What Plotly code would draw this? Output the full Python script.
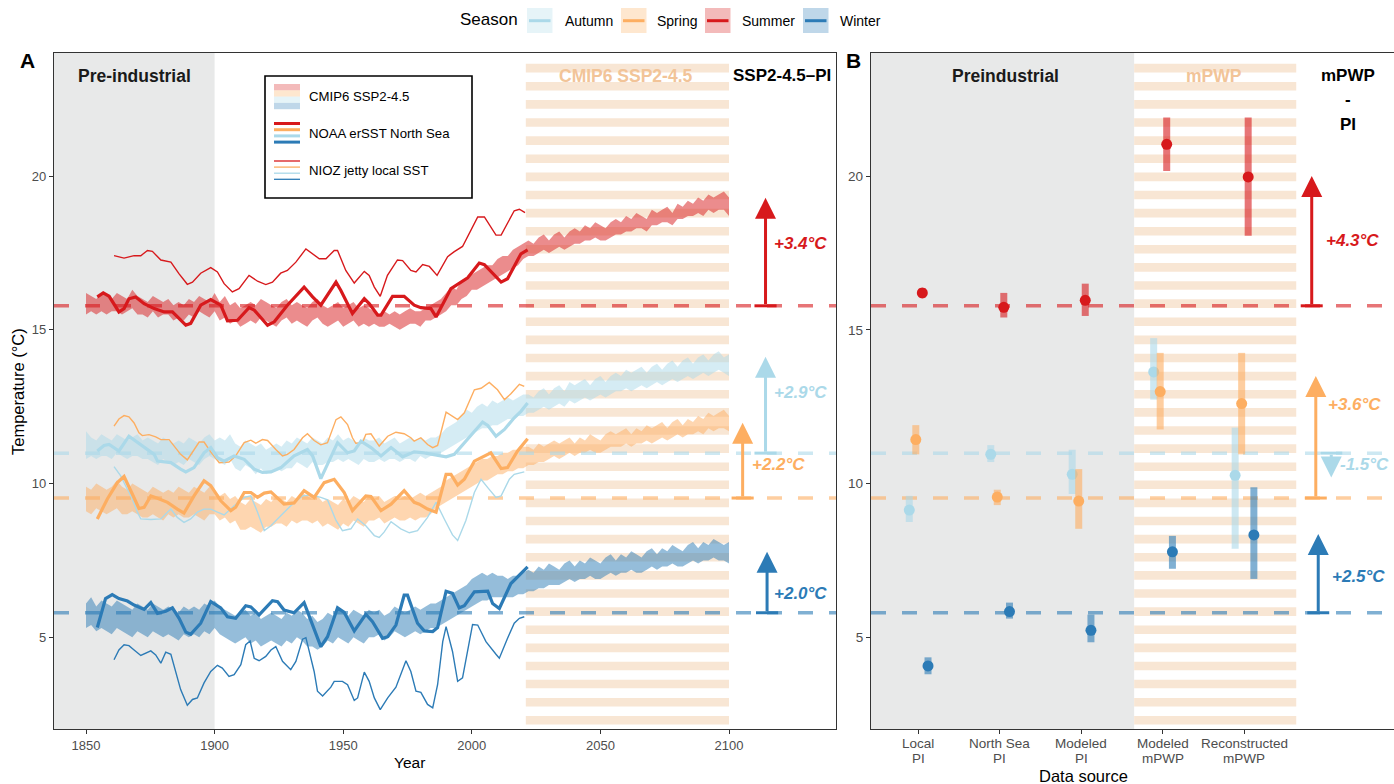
import plotly.graph_objects as go

W, H = 1394, 784
FONT = "Liberation Sans, Arial, Helvetica, sans-serif"

SEASONS = ["Autumn", "Spring", "Summer", "Winter"]
COLORS = {"Autumn": "#ABD9E9", "Spring": "#FDAE61", "Summer": "#D7191C", "Winter": "#2C7BB6"}

# ---------------- data: panel A ----------------
# pre-industrial reference levels (dashed lines)
pi_level = {"Summer": 15.78, "Autumn": 10.99, "Spring": 9.53, "Winter": 5.80}

# CMIP6 SSP2-4.5 ensemble ribbons, every 2 years 1850-2100
ribbon_years = list(range(1850, 2101, 2))
summer_hi = [16.2,16.1,16.0,16.2,16.1,16.0,16.2,16.1,16.0,16.3,16.1,16.0,15.9,16.1,16.0,15.9,16.0,15.8,15.9,15.8,16.0,15.9,16.1,16.0,15.9,16.2,
             15.9,16.1,15.8,15.9,15.7,15.8,15.9,15.8,16.0,15.9,15.8,15.7,15.9,16.0,15.8,15.9,15.8,15.7,15.9,16.0,15.8,15.7,15.8,15.9,15.7,15.8,15.9,15.7,15.8,15.7,
             15.6,15.5,15.6,15.5,15.6,15.5,15.6,15.7,15.6,15.6,15.7,15.8,
             15.9,16.0,16.2,16.4,16.3,16.6,16.7,16.8,16.9,17.0,17.1,17.1,17.3,17.4,17.4,17.6,17.7,17.8,
             17.9,17.8,18.0,18.1,17.9,18.1,18.2,18.0,18.2,18.3,18.2,18.4,18.3,18.5,18.4,18.3,18.5,18.6,18.5,18.7,
             18.6,18.8,18.7,18.6,18.9,18.8,18.9,19.0,18.8,19.1,19.0,19.2,19.1,19.3,19.2,19.4,19.3,19.4,19.5,19.3]
summer_lo = [15.5,15.6,15.5,15.6,15.5,15.6,15.6,15.5,15.6,15.7,15.5,15.5,15.4,15.6,15.4,15.5,15.5,15.3,15.4,15.3,15.5,15.4,15.6,15.5,15.4,15.6,
             15.3,15.4,15.2,15.3,15.1,15.2,15.3,15.2,15.4,15.3,15.2,15.1,15.3,15.4,15.2,15.3,15.2,15.1,15.3,15.4,15.2,15.1,15.2,15.3,15.1,15.2,15.3,15.1,15.2,15.1,
             15.2,15.1,15.1,15.2,15.1,15.0,15.1,15.2,15.2,15.1,15.3,15.3,
             15.4,15.5,15.6,15.8,15.8,16.0,16.1,16.3,16.3,16.4,16.5,16.6,16.7,16.8,16.9,17.0,17.1,17.3,
             17.4,17.4,17.5,17.6,17.5,17.6,17.7,17.6,17.7,17.8,17.8,17.9,17.9,18.0,17.9,17.9,18.0,18.1,18.1,18.2,
             18.2,18.3,18.3,18.2,18.4,18.4,18.5,18.5,18.4,18.6,18.6,18.7,18.7,18.8,18.7,18.9,18.8,18.9,18.9,18.7]
autumn_hi = [11.7,11.5,11.4,11.6,11.5,11.4,11.6,11.5,11.4,11.5,11.6,11.4,11.5,11.4,11.3,11.5,11.4,11.3,11.4,11.3,11.5,11.4,11.3,11.5,11.6,11.4,
             11.5,11.4,11.6,11.3,11.2,11.4,11.3,11.2,11.3,11.1,11.2,11.3,11.2,11.4,11.3,11.5,11.4,11.3,11.5,11.4,11.3,11.5,11.4,11.6,11.4,11.5,11.4,11.3,11.5,11.4,
             11.4,11.5,11.3,11.4,11.5,11.3,11.4,11.5,11.4,11.5,11.4,11.5,
             11.5,11.6,11.8,11.9,12.0,12.2,12.4,12.3,12.5,12.6,12.5,12.7,12.6,12.7,12.8,12.7,12.8,12.9,
             12.9,12.8,13.0,13.1,12.9,13.1,13.2,13.0,13.3,13.2,13.3,13.4,13.2,13.4,13.5,13.3,13.5,13.6,13.5,13.7,
             13.6,13.7,13.8,13.6,13.8,13.9,13.7,13.9,14.0,13.8,14.0,14.1,13.9,14.1,14.2,14.0,14.2,14.3,14.1,14.2]
autumn_lo = [10.8,10.9,10.8,10.9,10.9,10.8,11.0,10.9,10.8,10.9,10.9,10.8,10.8,10.7,10.6,10.8,10.7,10.6,10.7,10.6,10.8,10.7,10.6,10.8,10.9,10.8,
             10.7,10.6,10.8,10.5,10.4,10.6,10.5,10.3,10.5,10.3,10.4,10.5,10.4,10.5,10.5,10.7,10.6,10.5,10.7,10.6,10.6,10.7,10.7,10.8,10.7,10.8,10.7,10.6,10.8,10.7,
             10.7,10.8,10.7,10.8,10.8,10.7,10.8,10.8,10.7,10.9,10.8,10.9,
             10.9,11.0,11.1,11.2,11.3,11.4,11.5,11.6,11.7,11.8,11.8,11.9,11.9,12.0,12.1,12.1,12.2,12.2,
             12.3,12.3,12.4,12.5,12.4,12.5,12.6,12.5,12.7,12.6,12.7,12.8,12.7,12.8,12.9,12.8,12.9,13.0,13.0,13.1,
             13.0,13.1,13.2,13.1,13.2,13.3,13.2,13.3,13.4,13.3,13.4,13.5,13.4,13.5,13.6,13.5,13.6,13.7,13.6,13.5]
spring_hi = [9.9,9.8,10.0,9.9,9.8,9.9,10.1,9.9,9.8,10.0,9.9,9.8,9.7,9.9,9.8,9.7,9.8,9.7,9.9,9.8,9.7,9.9,9.8,9.7,9.9,9.8,
             9.6,9.7,9.5,9.6,9.4,9.3,9.5,9.4,9.3,9.5,9.4,9.6,9.5,9.4,9.6,9.5,9.7,9.6,9.5,9.6,9.4,9.5,9.4,9.3,9.5,9.4,9.6,9.5,9.4,9.6,
             9.5,9.6,9.4,9.5,9.6,9.5,9.6,9.5,9.6,9.7,9.6,9.7,
             9.8,9.9,10.1,10.2,10.3,10.4,10.5,10.6,10.7,10.8,10.8,10.9,10.9,11.0,11.0,11.1,11.1,11.2,
             11.2,11.1,11.3,11.2,11.3,11.4,11.3,11.4,11.5,11.3,11.5,11.4,11.6,11.5,11.4,11.6,11.7,11.6,11.7,11.8,
             11.6,11.8,11.7,11.9,11.8,11.9,12.0,11.8,12.0,12.1,11.9,12.1,12.0,12.2,12.1,12.3,12.2,12.3,12.4,12.2]
spring_lo = [9.1,9.0,9.2,9.1,9.0,9.1,9.2,9.0,9.0,9.1,9.0,8.9,8.9,9.0,8.9,8.8,9.0,8.9,9.0,8.9,8.9,9.0,8.9,8.8,9.0,9.0,
             8.8,8.9,8.7,8.8,8.5,8.5,8.6,8.5,8.4,8.6,8.6,8.7,8.7,8.6,8.8,8.7,8.8,8.8,8.7,8.8,8.6,8.7,8.6,8.5,8.7,8.6,8.8,8.7,8.6,8.8,
             8.8,8.9,8.7,8.8,8.9,8.8,8.8,8.9,8.8,8.9,8.9,9.0,
             9.2,9.3,9.4,9.5,9.6,9.7,9.8,9.9,10.0,10.1,10.1,10.2,10.3,10.3,10.4,10.4,10.5,10.5,
             10.6,10.6,10.7,10.7,10.8,10.9,10.8,10.9,11.0,10.9,11.0,11.0,11.1,11.0,11.0,11.1,11.2,11.2,11.2,11.3,
             11.2,11.3,11.3,11.4,11.3,11.4,11.5,11.4,11.5,11.6,11.5,11.6,11.6,11.7,11.6,11.8,11.7,11.8,11.8,11.7]
winter_hi = [6.1,6.3,6.0,6.2,6.1,6.0,6.2,6.1,6.0,5.9,6.1,6.0,5.9,6.1,6.0,5.9,6.0,5.9,5.8,6.0,5.9,6.0,5.9,6.1,6.0,6.2,
             6.0,5.9,5.8,5.7,5.8,5.9,5.7,5.8,5.6,5.7,5.8,5.7,5.6,5.8,5.7,5.9,5.8,5.6,5.7,5.5,5.6,5.8,5.7,5.9,5.8,5.7,5.9,5.8,5.7,5.9,
             5.8,5.9,5.7,5.8,6.0,5.9,5.8,5.9,6.0,5.9,6.0,6.1,
             6.1,6.2,6.3,6.4,6.5,6.6,6.7,6.9,7.0,7.1,7.0,7.1,7.0,7.0,6.9,7.0,7.0,7.1,
             7.2,7.1,7.3,7.2,7.4,7.3,7.2,7.4,7.5,7.3,7.5,7.4,7.6,7.5,7.4,7.6,7.7,7.5,7.7,7.6,
             7.8,7.7,7.6,7.8,7.9,7.7,7.9,7.8,8.0,7.9,7.8,8.0,8.1,7.9,8.1,8.0,8.2,8.1,8.0,8.1]
winter_lo = [5.3,5.4,5.2,5.3,5.2,5.1,5.3,5.2,5.1,5.0,5.2,5.1,5.0,5.2,5.1,5.0,5.1,5.0,4.9,5.1,5.0,5.1,5.0,5.2,5.1,5.3,
             5.1,5.0,4.9,4.8,4.9,5.0,4.8,4.9,4.7,4.8,4.9,4.8,4.7,4.9,4.8,5.0,4.9,4.7,4.7,4.6,4.7,4.9,4.8,5.0,4.9,4.8,5.0,4.9,4.8,5.0,
             5.0,5.1,4.9,5.0,5.2,5.1,5.0,5.1,5.2,5.1,5.2,5.3,
             5.3,5.4,5.5,5.6,5.7,5.8,5.9,6.0,6.1,6.2,6.2,6.3,6.3,6.3,6.3,6.3,6.4,6.4,
             6.5,6.5,6.6,6.6,6.7,6.7,6.7,6.8,6.9,6.8,6.9,6.9,7.0,6.9,6.9,7.0,7.1,7.0,7.1,7.1,
             7.2,7.1,7.1,7.2,7.3,7.2,7.3,7.3,7.4,7.3,7.3,7.4,7.5,7.4,7.5,7.5,7.6,7.5,7.5,7.4]
ribbon_hi = {"Summer": summer_hi, "Autumn": autumn_hi, "Spring": spring_hi, "Winter": winter_hi}
ribbon_lo = {"Summer": summer_lo, "Autumn": autumn_lo, "Spring": spring_lo, "Winter": winter_lo}

# NOAA ERSST North Sea (smoothed)
noaa_summer_year = [1854.4,1856.7,1859.0,1862.8,1864.8,1866.7,1869.3,1872.6,1876.5,1880.4,1883.6,1886.2,1888.8,1890.7,1894.6,1898.5,
                    1902.4,1905.0,1908.9,1913.4,1915.4,1920.6,1923.2,1928.3,1934.8,1938.1,1941.3,1947.2,1949.1,1953.6,1958.2,1960.1,
                    1963.4,1964.7,1969.2,1973.7,1977.6,1980.2,1984.1,1986.1,1991.9,1998.4,2002.9,2004.9,2011.4,2013.9,2019.1,2021.7]
noaa_summer_temp = [16.07,16.20,16.09,15.58,15.69,16.01,16.07,15.85,15.69,15.58,15.58,15.37,15.15,15.21,15.80,15.98,
                    15.80,15.29,15.31,15.72,15.64,15.15,15.26,15.80,16.39,16.07,15.80,16.55,16.28,15.53,16.01,15.85,
                    15.48,15.48,16.09,16.09,15.80,15.72,15.69,15.42,16.34,16.69,17.17,17.12,16.55,16.66,17.47,17.60]
noaa_autumn_year = [1854.4,1857.0,1859.0,1862.8,1866.7,1871.3,1876.5,1877.8,1883.0,1886.8,1888.8,1892.0,1895.9,1898.5,1901.1,
                    1903.7,1907.6,1911.5,1915.4,1918.6,1921.9,1925.8,1930.9,1936.1,1938.1,1941.3,1945.2,1947.8,1951.7,1954.3,
                    1956.9,1960.8,1964.7,1968.6,1973.1,1977.6,1981.5,1985.4,1990.0,1993.2,1997.1,2001.0,2004.2,2006.2,2009.4,
                    2012.7,2016.5,2019.1,2021.7]
noaa_autumn_temp = [11.06,11.24,11.27,11.06,11.54,11.27,10.95,10.73,10.68,10.47,10.38,10.52,11.00,11.17,10.84,
                    10.73,10.90,10.79,10.47,10.36,10.38,10.52,10.90,11.11,10.90,10.16,10.90,11.33,11.00,11.06,
                    11.38,11.17,10.90,11.17,10.87,11.03,11.00,10.95,10.87,10.95,11.33,11.70,12.00,11.89,11.54,
                    11.76,12.14,12.35,12.62]
noaa_spring_year = [1854.4,1858.3,1862.2,1864.8,1868.0,1870.6,1872.6,1875.2,1877.8,1881.7,1885.5,1888.1,1892.0,1895.9,1898.5,
                    1902.4,1906.3,1908.2,1911.5,1914.1,1916.7,1919.3,1921.9,1927.0,1930.9,1934.8,1938.7,1942.6,1946.5,1950.4,
                    1953.6,1958.8,1960.8,1964.7,1968.6,1973.7,1977.6,1979.6,1982.8,1986.1,1990.0,1991.9,1994.5,1997.1,2001.0,
                    2004.9,2007.4,2011.4,2013.9,2017.8,2021.7]
noaa_spring_temp = [8.85,9.50,10.03,10.23,9.66,9.19,9.23,9.60,9.52,9.39,9.17,9.04,9.60,10.09,9.93,
                    9.44,9.12,9.23,9.71,9.71,9.55,9.69,9.73,9.33,9.37,9.77,9.55,10.03,10.14,9.71,
                    9.12,9.60,9.58,9.12,9.33,9.77,9.39,9.33,9.17,9.07,10.30,10.30,9.95,10.14,10.73,
                    10.90,11.00,10.49,10.52,11.06,11.46]
noaa_winter_year = [1854.4,1857.6,1860.2,1862.8,1866.1,1868.7,1872.6,1875.2,1877.8,1881.0,1883.6,1886.2,1888.8,1890.7,1894.6,
                    1898.5,1902.4,1905.0,1908.2,1912.1,1914.1,1917.3,1922.5,1924.5,1927.0,1930.9,1934.8,1938.1,1941.3,1943.9,
                    1947.8,1950.4,1954.3,1958.8,1961.4,1965.3,1967.3,1970.5,1973.7,1975.0,1978.9,1981.5,1984.8,1986.7,1990.0,
                    1992.5,1995.1,1997.1,2001.0,2006.2,2008.1,2010.7,2015.2,2021.7]
noaa_winter_temp = [5.32,6.26,6.39,6.26,6.18,6.05,5.91,6.13,5.78,5.85,5.96,5.62,5.17,5.10,5.46,
                    6.16,5.96,5.67,5.62,6.03,5.99,5.73,6.19,6.16,5.89,5.80,6.13,5.40,4.70,5.02,
                    5.96,5.81,5.21,5.75,5.51,4.97,5.02,5.40,6.37,6.37,5.46,5.21,5.19,5.32,6.50,
                    6.43,5.96,6.03,6.48,6.50,6.10,5.94,6.75,7.29]

# NIOZ jetty local SST
nioz_summer_year = [1860.9,1864.8,1868.7,1871.3,1873.9,1875.8,1879.1,1883.0,1886.2,1889.4,1891.4,1894.6,1898.5,1901.1,1903.7,
                    1906.9,1909.5,1913.4,1916.7,1919.9,1922.5,1925.7,1928.3,1931.6,1935.5,1937.4,1940.7,1943.3,1946.5,1947.8,
                    1951.0,1954.3,1958.2,1960.1,1962.1,1964.4,1967.2,1971.1,1973.1,1976.3,1978.3,1980.9,1983.5,1986.5,1990.6,
                    1993.2,1996.4,2002.3,2004.9,2009.4,2011.4,2016.5,2018.5,2020.7]
nioz_summer_temp = [17.41,17.33,17.41,17.41,17.58,17.55,17.27,17.20,16.82,16.48,16.55,16.84,17.02,16.88,16.50,
                    16.23,16.34,16.77,16.58,16.47,16.55,16.84,16.93,17.20,17.63,17.52,17.31,17.31,17.58,17.58,
                    16.93,16.52,16.90,16.77,16.39,16.09,16.77,17.27,17.25,16.93,16.88,17.12,17.06,16.77,17.38,
                    17.54,17.71,18.67,18.67,18.08,18.08,18.87,18.92,18.81]
nioz_autumn_year = [1860.9,1863.5,1865.4,1868.0,1870.0,1871.3,1875.2,1879.1,1881.0,1883.0,1885.5,1888.1,1890.7,1893.3,1895.9,
                    1898.5,1901.1,1903.7,1907.6,1911.5,1914.1,1916.7,1919.3,1921.9,1925.8,1929.6,1934.2,1937.4,1941.3,1943.9,
                    1947.2,1949.7,1953.0,1955.6,1958.8,1962.1,1964.0,1965.9,1968.6,1972.4,1975.7,1978.9,1982.8,1986.1,1989.3,
                    1992.5,1994.5,1997.7,2001.0,2003.6,2006.2,2009.4,2011.4,2014.6,2016.5,2020.4]
nioz_autumn_temp = [10.55,10.25,9.93,9.50,9.07,8.85,8.83,8.85,9.01,9.17,8.90,8.74,8.85,9.07,9.17,
                    9.17,9.07,8.98,9.28,9.55,9.60,9.07,8.47,8.63,8.96,9.28,9.60,9.63,9.55,9.47,
                    8.80,8.47,8.53,8.85,8.63,8.31,8.25,8.42,8.76,8.53,8.40,8.47,8.90,9.39,8.85,
                    8.33,8.15,8.80,9.71,10.14,9.87,9.55,9.60,10.14,10.30,10.38]
nioz_spring_year = [1860.9,1862.8,1864.8,1866.7,1868.7,1870.6,1871.9,1874.5,1877.1,1879.1,1882.3,1884.2,1886.8,1889.4,1892.0,
                    1894.0,1895.9,1898.5,1901.8,1905.6,1908.2,1911.5,1914.1,1916.0,1918.6,1920.6,1923.8,1926.4,1928.3,1930.9,
                    1934.2,1936.1,1938.7,1941.3,1943.9,1947.2,1949.1,1951.7,1953.6,1954.9,1957.5,1958.8,1960.8,1964.0,1967.3,
                    1970.5,1973.7,1976.3,1977.6,1980.2,1982.8,1984.8,1986.7,1990.0,1994.5,1997.1,2001.0,2003.6,2006.8,2010.0,
                    2012.7,2015.2,2018.5,2020.4]
nioz_spring_temp = [11.87,12.10,12.21,12.17,11.97,11.65,11.56,11.59,11.52,11.43,11.43,11.24,10.95,10.77,11.11,
                    11.35,11.35,11.03,10.68,10.70,10.90,11.33,11.41,11.31,11.43,11.40,11.11,10.90,10.95,11.11,
                    11.49,11.62,11.40,11.26,11.33,12.08,12.17,11.92,11.49,11.31,11.33,11.60,11.62,11.22,11.54,
                    11.67,11.62,11.49,11.38,11.49,11.27,11.17,11.24,12.32,12.08,12.30,13.05,13.10,13.29,13.05,
                    12.73,12.92,13.23,13.16]
nioz_winter_year = [1860.9,1862.8,1864.8,1866.7,1868.7,1871.3,1875.2,1877.1,1879.1,1881.0,1883.0,1884.9,1886.8,1889.4,1891.4,
                    1893.3,1895.9,1898.5,1901.1,1903.0,1905.6,1907.6,1910.2,1912.1,1913.8,1915.4,1917.3,1919.9,1921.9,1923.8,
                    1926.4,1929.6,1931.6,1934.2,1935.5,1938.7,1940.0,1942.0,1945.2,1946.5,1949.7,1951.7,1954.3,1955.6,1958.2,
                    1960.1,1962.1,1964.4,1967.3,1970.5,1974.4,1976.3,1978.3,1980.2,1982.8,1984.8,1986.7,1988.7,1990.0,1992.5,
                    1994.5,1996.4,2000.3,2002.3,2005.5,2009.4,2010.7,2013.9,2016.5,2018.5,2020.4]
nioz_winter_temp = [4.27,4.59,4.76,4.73,4.59,4.41,4.56,4.43,4.16,4.52,4.45,3.89,3.30,2.79,2.98,
                    3.03,3.52,3.89,4.09,4.00,3.73,3.79,4.11,4.76,4.88,4.32,4.24,4.38,4.59,4.70,
                    4.22,3.95,4.22,4.94,4.99,3.89,3.25,3.09,3.38,3.57,3.57,3.46,2.95,3.03,3.87,
                    3.57,3.03,2.65,3.03,3.38,4.24,3.89,3.25,3.21,2.82,2.71,3.46,4.86,5.35,4.54,
                    3.57,3.68,5.42,5.40,4.86,4.45,4.32,4.97,5.46,5.62,5.67]

noaa = {"Summer": (noaa_summer_year, noaa_summer_temp), "Autumn": (noaa_autumn_year, noaa_autumn_temp),
        "Spring": (noaa_spring_year, noaa_spring_temp), "Winter": (noaa_winter_year, noaa_winter_temp)}
nioz = {"Summer": (nioz_summer_year, nioz_summer_temp), "Autumn": (nioz_autumn_year, nioz_autumn_temp),
        "Spring": (nioz_spring_year, nioz_spring_temp), "Winter": (nioz_winter_year, nioz_winter_temp)}

# SSP2-4.5 minus PI arrows (panel A)
arrowA_year = {"Summer": 2114.2, "Autumn": 2114.2, "Spring": 2105.3, "Winter": 2114.8}
arrowA_end = {"Summer": 19.29, "Autumn": 14.12, "Spring": 11.98, "Winter": 7.78}
arrowA_label = {"Summer": "+3.4°C", "Autumn": "+2.9°C", "Spring": "+2.2°C", "Winter": "+2.0°C"}
labelA_pos = {"Summer": (2127.8, 17.8), "Autumn": (2127.8, 12.95), "Spring": (2119.3, 10.63), "Winter": (2127.8, 6.43)}

# ---------------- data: panel B ----------------
pb_categories = [("Local", "PI"), ("North Sea", "PI"), ("Modeled", "PI"), ("Modeled", "mPWP"), ("Reconstructed", "mPWP")]
pb_autumn_mean = [9.14, 10.95, 10.30, 13.63, 10.27]
pb_autumn_lo = [8.75, 10.70, 9.66, 12.73, 7.88]
pb_autumn_hi = [9.60, 11.25, 11.10, 14.73, 11.82]
pb_spring_mean = [11.43, 9.56, 9.43, 12.99, 12.60]
pb_spring_lo = [10.95, 9.30, 8.53, 11.76, 10.95]
pb_spring_hi = [11.90, 9.80, 10.47, 14.25, 14.25]
pb_summer_mean = [16.20, 15.73, 15.96, 21.03, 19.97]
pb_summer_lo = [16.05, 15.40, 15.45, 20.16, 18.06]
pb_summer_hi = [16.35, 16.20, 16.50, 21.90, 21.90]
pb_winter_mean = [4.07, 5.84, 5.23, 7.78, 8.33]
pb_winter_lo = [3.80, 5.61, 4.84, 7.23, 6.90]
pb_winter_hi = [4.35, 6.13, 5.74, 8.30, 9.88]
pb = {"Autumn": (pb_autumn_mean, pb_autumn_lo, pb_autumn_hi), "Spring": (pb_spring_mean, pb_spring_lo, pb_spring_hi),
      "Summer": (pb_summer_mean, pb_summer_lo, pb_summer_hi), "Winter": (pb_winter_mean, pb_winter_lo, pb_winter_hi)}
dodge = {"Autumn": -0.11, "Spring": -0.03, "Summer": 0.05, "Winter": 0.12}

arrowB_x = {"Summer": 5.83, "Spring": 5.88, "Autumn": 6.07, "Winter": 5.91}
arrowB_end = {"Summer": 20.0, "Spring": 13.5, "Autumn": 10.2, "Winter": 8.36}
arrowB_label = {"Summer": "+4.3°C", "Spring": "+3.6°C", "Autumn": "-1.5°C", "Winter": "+2.5°C"}
labelB_pos = {"Summer": (6.33, 17.9), "Spring": (6.36, 12.57), "Autumn": (6.48, 10.63), "Winter": (6.40, 6.97)}

# ---------------- geometry ----------------
XA_DOM = [54 / W, 836 / W]
XB_DOM = [871 / W, 1.0]
Y_DOM = [1 - 729 / H, 1 - 52.7 / H]
XA_RANGE = [1837.56, 2141.6]
XB_RANGE = [0.42, 6.84]
Y_RANGE = [2.02, 24.01]


def rgba(hexc, a):
    h = hexc.lstrip('#')
    return "rgba(%d,%d,%d,%s)" % (int(h[0:2], 16), int(h[2:4], 16), int(h[4:6], 16), a)


def px(xp, yp):
    return xp / W, 1 - yp / H


fig = go.Figure()
shapes = []
ann = []

GRAY = "#E8E9E9"
STRIPE = "#F8E6D4"

# background regions panel A
shapes.append(dict(type="rect", xref="x", yref="y", x0=XA_RANGE[0], x1=1900, y0=Y_RANGE[0], y1=Y_RANGE[1],
                   fillcolor=GRAY, line_width=0, layer="below"))
# background regions panel B
shapes.append(dict(type="rect", xref="x2", yref="y2", x0=XB_RANGE[0], x1=3.65, y0=Y_RANGE[0], y1=Y_RANGE[1],
                   fillcolor=GRAY, line_width=0, layer="below"))
for k in range(37):
    c = 23.507 - 0.589 * k
    shapes.append(dict(type="rect", xref="x", yref="y", x0=2021, x1=2100, y0=c - 0.14, y1=c + 0.14,
                       fillcolor=STRIPE, line_width=0, layer="below"))
    shapes.append(dict(type="rect", xref="x2", yref="y2", x0=3.65, x1=5.64, y0=c - 0.14, y1=c + 0.14,
                       fillcolor=STRIPE, line_width=0, layer="below"))

# ribbons
for s in ["Autumn", "Spring", "Summer", "Winter"]:
    n = min(len(ribbon_years), len(ribbon_hi[s]), len(ribbon_lo[s]))
    xs = ribbon_years[:n] + ribbon_years[:n][::-1]
    ys = ribbon_hi[s][:n] + ribbon_lo[s][:n][::-1]
    fig.add_trace(go.Scatter(x=xs, y=ys, fill="toself", fillcolor=rgba(COLORS[s], 0.5), mode="lines",
                             line=dict(width=0), hoverinfo="skip", showlegend=False, xaxis="x", yaxis="y"))

# dashed PI levels
for s in SEASONS:
    fig.add_trace(go.Scatter(x=XA_RANGE, y=[pi_level[s]] * 2, mode="lines",
                             line=dict(color=rgba(COLORS[s], 0.6), width=3.5, dash="15px,16px"),
                             hoverinfo="skip", showlegend=False, xaxis="x", yaxis="y"))
    fig.add_trace(go.Scatter(x=XB_RANGE, y=[pi_level[s]] * 2, mode="lines",
                             line=dict(color=rgba(COLORS[s], 0.6), width=3.5, dash="15px,16px"),
                             hoverinfo="skip", showlegend=False, xaxis="x2", yaxis="y2"))

# NIOZ thin and NOAA thick lines
for s in SEASONS:
    x, y = nioz[s]
    fig.add_trace(go.Scatter(x=x, y=y, mode="lines", line=dict(color=COLORS[s], width=1.4),
                             hoverinfo="skip", showlegend=False, xaxis="x", yaxis="y"))
for s in SEASONS:
    x, y = noaa[s]
    fig.add_trace(go.Scatter(x=x, y=y, mode="lines", line=dict(color=COLORS[s], width=3.2),
                             hoverinfo="skip", showlegend=False, xaxis="x", yaxis="y"))

# panel A arrows
for s in SEASONS:
    xa = arrowA_year[s]
    fig.add_trace(go.Scatter(x=[xa - 4.3, xa + 4.3], y=[pi_level[s]] * 2, mode="lines",
                             line=dict(color=COLORS[s], width=3), hoverinfo="skip", showlegend=False,
                             xaxis="x", yaxis="y"))
    ann.append(dict(x=xa, y=arrowA_end[s], ax=xa, ay=pi_level[s], xref="x", yref="y", axref="x", ayref="y",
                    text="", showarrow=True, arrowhead=2, arrowsize=1.4, arrowwidth=3, arrowcolor=COLORS[s],
                    standoff=0, startstandoff=0))
    lx, ly = labelA_pos[s]
    ann.append(dict(x=lx, y=ly, xref="x", yref="y", text="<b><i>%s</i></b>" % arrowA_label[s], showarrow=False,
                    font=dict(family=FONT, size=17, color=COLORS[s]), xanchor="center", yanchor="middle"))

# panel B error bars & points
for s in SEASONS:
    mean, lo, hi = pb[s]
    bx, by = [], []
    for i in range(len(mean)):
        xc = i + 1 + dodge[s]
        bx += [xc, xc, None]
        by += [lo[i], hi[i], None]
    fig.add_trace(go.Scatter(x=bx, y=by, mode="lines", line=dict(color=rgba(COLORS[s], 0.6), width=7),
                             hoverinfo="skip", showlegend=False, xaxis="x2", yaxis="y2"))
    fig.add_trace(go.Scatter(x=[i + 1 + dodge[s] for i in range(len(mean))], y=mean, mode="markers",
                             marker=dict(color=COLORS[s], size=11, line=dict(width=0)),
                             hoverinfo="skip", showlegend=False, xaxis="x2", yaxis="y2"))

# panel B arrows
for s in SEASONS:
    xa = arrowB_x[s]
    fig.add_trace(go.Scatter(x=[xa - 0.135, xa + 0.135], y=[pi_level[s]] * 2, mode="lines",
                             line=dict(color=COLORS[s], width=3), hoverinfo="skip", showlegend=False,
                             xaxis="x2", yaxis="y2"))
    ann.append(dict(x=xa, y=arrowB_end[s], ax=xa, ay=pi_level[s], xref="x2", yref="y2", axref="x2", ayref="y2",
                    text="", showarrow=True, arrowhead=2, arrowsize=1.4, arrowwidth=3, arrowcolor=COLORS[s],
                    standoff=0, startstandoff=0))
    lx, ly = labelB_pos[s]
    ann.append(dict(x=lx, y=ly, xref="x2", yref="y2", text="<b><i>%s</i></b>" % arrowB_label[s], showarrow=False,
                    font=dict(family=FONT, size=17, color=COLORS[s]), xanchor="center", yanchor="middle"))

# panel B category tick labels (two lines each)
for i, (l1, l2) in enumerate(pb_categories):
    yy1 = 1 - 743 / H
    yy2 = 1 - 758 / H
    ann.append(dict(x=i + 1, y=yy1, xref="x2", yref="paper", text=l1, showarrow=False,
                    font=dict(family=FONT, size=13.5, color="#4D4D4D"), xanchor="center", yanchor="middle"))
    ann.append(dict(x=i + 1, y=yy2, xref="x2", yref="paper", text=l2, showarrow=False,
                    font=dict(family=FONT, size=13.5, color="#4D4D4D"), xanchor="center", yanchor="middle"))


def text_px(x, y, t, size, color="#1A1A1A", bold=False, angle=0, xanchor="center"):
    xx, yy = px(x, y)
    ann.append(dict(x=xx, y=yy, xref="paper", yref="paper", text=("<b>%s</b>" % t) if bold else t,
                    showarrow=False, font=dict(family=FONT, size=size, color=color), textangle=angle,
                    xanchor=xanchor, yanchor="middle"))


PEACH = "#F2C498"
# region labels
text_px(134, 76, "Pre-industrial", 17.5, bold=True)
text_px(626, 76, "CMIP6 SSP2-4.5", 17.5, color=PEACH, bold=True)
text_px(782, 76, "SSP2-4.5–PI", 17, color="#000000", bold=True)
text_px(1005, 76, "Preindustrial", 17.5, bold=True)
text_px(1214, 76, "mPWP", 17.5, color=PEACH, bold=True)
text_px(1348, 76, "mPWP", 17, color="#000000", bold=True)
text_px(1348, 100, "-", 17, color="#000000", bold=True)
text_px(1348, 124, "PI", 17, color="#000000", bold=True)
# panel tags
text_px(28, 60, "A", 21, color="#000000", bold=True)
text_px(853, 60, "B", 21, color="#000000", bold=True)
# axis titles
text_px(409, 762, "Year", 15.5, color="#000000")
text_px(1083, 776, "Data source", 16.5, color="#000000")
text_px(18, 392, "Temperature (°C)", 16.5, color="#000000", angle=-90)

# top legend (manual)
text_px(489, 20, "Season", 17, color="#000000")
leg_items = [("Autumn", 527, 563), ("Spring", 621, 655), ("Summer", 705, 740), ("Winter", 803, 838)]
for s, bx0, tx in leg_items:
    x0, y0 = px(bx0, 33)
    x1, y1 = px(bx0 + 25.5, 8)
    shapes.append(dict(type="rect", xref="paper", yref="paper", x0=x0, x1=x1, y0=y0, y1=y1,
                       fillcolor=rgba(COLORS[s], 0.3), line_width=0))
    lx0, ly = px(bx0 + 2, 20.7)
    lx1, _ = px(bx0 + 23.5, 20.7)
    shapes.append(dict(type="line", xref="paper", yref="paper", x0=lx0, x1=lx1, y0=ly, y1=ly,
                       line=dict(color=COLORS[s], width=3)))
    text_px(tx, 21, s, 14, color="#000000", xanchor="left")

# inner legend box (panel A)
bx0, by0 = px(265, 198)
bx1, by1 = px(472, 76)
shapes.append(dict(type="rect", xref="paper", yref="paper", x0=bx0, x1=bx1, y0=by0, y1=by1,
                   fillcolor="white", line=dict(color="#000000", width=1.6)))
order_stack = ["Summer", "Spring", "Autumn", "Winter"]
for i, s in enumerate(order_stack):
    a, b = px(274, 84 + i * 6.3)
    c, d = px(300, 84 + (i + 1) * 6.3)
    shapes.append(dict(type="rect", xref="paper", yref="paper", x0=a, x1=c, y0=d, y1=b,
                       fillcolor=rgba(COLORS[s], 0.3), line_width=0))
for i, s in enumerate(order_stack):
    a, b = px(274, 123.5 + i * 6.2)
    c, _ = px(300, 0)
    shapes.append(dict(type="line", xref="paper", yref="paper", x0=a, x1=c, y0=b, y1=b,
                       line=dict(color=COLORS[s], width=3)))
for i, s in enumerate(order_stack):
    a, b = px(274, 161 + i * 6.1)
    c, _ = px(300, 0)
    shapes.append(dict(type="line", xref="paper", yref="paper", x0=a, x1=c, y0=b, y1=b,
                       line=dict(color=COLORS[s], width=1.3)))
text_px(307, 96, "CMIP6 SSP2-4.5", 13.2, color="#000000", xanchor="left")
text_px(307, 133, "NOAA erSST North Sea", 13.2, color="#000000", xanchor="left")
text_px(307, 170, "NIOZ jetty local SST", 13.2, color="#000000", xanchor="left")

axis_common = dict(showgrid=False, zeroline=False, showline=True, mirror=True, linecolor="#333333", linewidth=1.3,
                   ticks="outside", ticklen=4, tickwidth=1.1, tickcolor="#333333")

fig.update_layout(
    width=W, height=H, autosize=False,
    margin=dict(l=0, r=0, t=0, b=0, pad=0),
    paper_bgcolor="white", plot_bgcolor="white",
    font=dict(family=FONT),
    showlegend=False,
    xaxis=dict(domain=XA_DOM, range=XA_RANGE, anchor="y", tickvals=[1850, 1900, 1950, 2000, 2050, 2100],
               tickfont=dict(size=13, color="#4D4D4D", family=FONT), **axis_common),
    yaxis=dict(domain=Y_DOM, range=Y_RANGE, anchor="x", tickvals=[5, 10, 15, 20],
               tickfont=dict(size=13, color="#4D4D4D", family=FONT), **axis_common),
    xaxis2=dict(domain=XB_DOM, range=XB_RANGE, anchor="y2", tickvals=[1, 2, 3, 4, 5], showticklabels=False,
                **axis_common),
    yaxis2=dict(domain=Y_DOM, range=Y_RANGE, anchor="x2", tickvals=[5, 10, 15, 20],
                tickfont=dict(size=13.5, color="#4D4D4D", family=FONT), **axis_common),
    shapes=shapes,
    annotations=ann,
)

fig.write_html("out.html", config={"displayModeBar": False},
               post_script="document.body.style.margin='0px';document.body.style.overflow='hidden';")
